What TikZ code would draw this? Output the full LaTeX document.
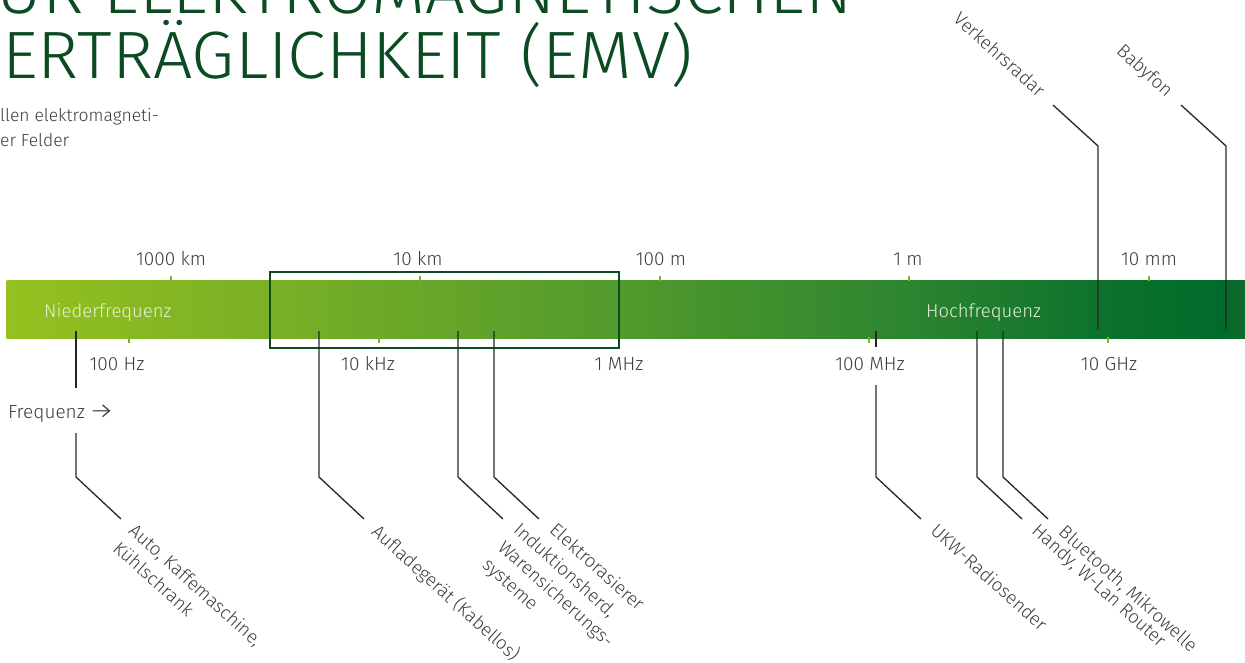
\documentclass[tikz,border=0pt]{standalone}
\usepackage{fontspec}
\setmainfont{Fira Sans}[UprightFont=* Light]
\definecolor{emvgreen}{HTML}{0A4B22}
\definecolor{textgray}{HTML}{3C3C3B}
\definecolor{leadgray}{HTML}{262626}
\definecolor{tickgreen}{HTML}{7DB52A}
\definecolor{barwhite}{HTML}{E8F0D8}
\definecolor{g0}{HTML}{95C11F}
\definecolor{g1}{HTML}{7AB026}
\definecolor{g2}{HTML}{519A2C}
\definecolor{g3}{HTML}{2E8530}
\definecolor{g4}{HTML}{0D722C}
\definecolor{g5}{HTML}{006B2B}
\definecolor{g6}{HTML}{0E6B2D}
\tikzset{
  leader/.style={draw=leadgray, line width=1.3pt},
  tick/.style={draw=tickgreen, line width=1.4pt},
  scalelabel/.style={font=\fontsize{19}{22}\selectfont, text=textgray, inner sep=0pt, anchor=base},
  barlabel/.style={font=\fontsize{18.5}{22}\selectfont, text=barwhite, inner sep=0pt, anchor=base west},
  devlabel/.style={font=\fontsize{18.5}{23.5}\selectfont, text=textgray, inner sep=0pt,
    align=left, rotate=-42, anchor=north west},
  toplabel/.style={font=\fontsize{18.5}{23.5}\selectfont, text=textgray, inner sep=0pt,
    rotate=-42, anchor=base east},
  title/.style={font=\fontsize{67}{67}\selectfont, text=emvgreen, inner sep=0pt, anchor=base west},
  intro/.style={font=\fontsize{17.5}{22}\selectfont, text=textgray, inner sep=0pt, anchor=base west},
}
\begin{document}
\begin{tikzpicture}[x=1pt, y=-1pt]
  \useasboundingbox (0,0) rectangle (1245,662);
  \clip (0,0) rectangle (1245,662);

  % heading, cut off by the page edge
  \node[title] (head1) at (-4,13) {\scalebox{1.05}[1]{UR ELEKTROMAGNETISCHEN}};
  \node[title] (head2) at (2,78) {\scalebox{1.04}[1]{ERTRÄGLICHKEIT (EMV)}};
  \node[intro] (intro1) at (0,121) {llen elektromagneti-};
  \node[intro] (intro2) at (0,146) {er Felder};

  % spectrum bar
  \foreach \xa/\xb/\ca/\cb in {7/270/g0/g1, 270/620/g1/g2, 620/900/g2/g3,
      900/1100/g3/g4, 1100/1220/g4/g5, 1220/1245/g5/g6}
    \shade[left color=\ca, right color=\cb] (\xa-0.3,280) rectangle (\xb+0.3,338);
  \foreach \x in {171,420,660,909,1149}
    \draw[tick] (\x,276) -- (\x,281);
  \foreach \x in {129,379,619,869,1108}
    \draw[tick] (\x,337) -- (\x,343);

  \node[barlabel] (nf) at (44,317) {Niederfrequenz};
  \node[barlabel] (hf) at (926,317) {Hochfrequenz};

  % wavelength (top) and frequency (bottom)
  \node[scalelabel] (w1) at (171,265) {1000 km};
  \node[scalelabel] (w2) at (418,265) {10 km};
  \node[scalelabel] (w3) at (661,265) {100 m};
  \node[scalelabel] (w4) at (908,265) {1 m};
  \node[scalelabel] (w5) at (1149,265) {10 mm};
  \node[scalelabel] (f1) at (117,370) {100 Hz};
  \node[scalelabel] (f2) at (368,370) {10 kHz};
  \node[scalelabel] (f3) at (619,370) {1 MHz};
  \node[scalelabel] (f4) at (870,370) {100 MHz};
  \node[scalelabel] (f5) at (1109,370) {10 GHz};
  \node[scalelabel, anchor=base west] (freq) at (8,418) {Frequenz\hspace{4pt}\scalebox{1.5}[1.15]{→}};

  % highlighted range
  \draw[emvgreen, line width=1.6pt] (270,272) rectangle (619,348);

  % leaders below the bar
  \foreach \n/\x in {auto/76, aufl/319, induk/458, elek/494, ukw/876, handy/977, blue/1003} {
    \coordinate (\n-top) at (\x,331);
    \coordinate (\n-knee) at (\x,477);
    \coordinate (\n-end) at (\x+45,519);
  }
  \coordinate (auto-gap1) at (76,388);
  \coordinate (auto-gap2) at (76,433);
  \coordinate (ukw-gap1) at (876,347);
  \coordinate (ukw-gap2) at (876,385);

  \node[devlabel] (auto) at ([shift={(16,3)}]auto-end) {Auto, Kaffemaschine,\\Kühlschrank};
  \node[devlabel] (aufl) at ([shift={(17,3)}]aufl-end) {Aufladegerät (Kabellos)};
  \node[devlabel] (induk) at ([shift={(19,2)}]induk-end) {Induktionsherd,\\Warensicherungs-\\systeme};
  \node[devlabel] (elek) at ([shift={(19,2)}]elek-end) {Elektrorasierer};
  \node[devlabel] (ukw) at ([shift={(18,3)}]ukw-end) {UKW-Radiosender};
  \node[devlabel] (handy) at ([shift={(18,3)}]handy-end) {Handy, W-Lan Router};
  \node[devlabel] (blue) at ([shift={(19,4)}]blue-end) {Bluetooth, Mikrowelle};

  \draw[leader] (auto-top) -- (auto-gap1);
  \draw[leader] (auto-gap2) -- (auto-knee) -- (auto-end);
  \draw[leader] (ukw-top) -- (ukw-gap1);
  \draw[leader] (ukw-gap2) -- (ukw-knee) -- (ukw-end);
  \foreach \n in {aufl, induk, elek, handy, blue}
    \draw[leader] (\n-top) -- (\n-knee) -- (\n-end);

  % leaders above the bar
  \foreach \n/\x in {radar/1098, baby/1226} {
    \coordinate (\n-top) at (\x,329);
    \coordinate (\n-knee) at (\x,146);
    \coordinate (\n-end) at (\x-45,105);
  }
  \node[toplabel] (radar) at ([shift={(-15,-7)}]radar-end) {Verkehrsradar};
  \node[toplabel] (baby) at ([shift={(-15,-7)}]baby-end) {Babyfon};
  \foreach \n in {radar, baby}
    \draw[leader] (\n-top) -- (\n-knee) -- (\n-end);
\end{tikzpicture}
\end{document}
